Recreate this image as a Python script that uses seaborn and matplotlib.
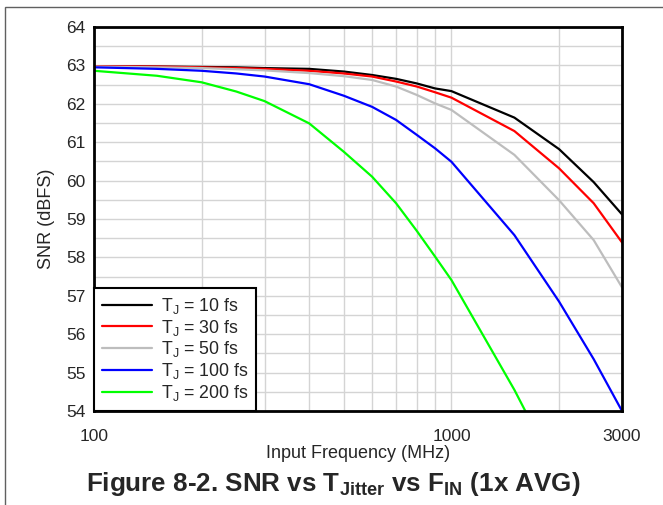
import pandas as pd
import seaborn as sns
import matplotlib.pyplot as plt
import numpy as np
from matplotlib.ticker import FixedLocator, NullFormatter, MultipleLocator
from matplotlib.patches import Rectangle

freq = [100, 150, 200, 250, 300, 400, 500, 600, 700, 800, 900, 1000, 1500, 2000, 2500, 3000]
snr_10 = [62.98, 62.97, 62.96, 62.95, 62.93, 62.91, 62.84, 62.75, 62.65, 62.53, 62.40, 62.33, 61.64, 60.82, 59.96, 59.12]
snr_30 = [62.98, 62.97, 62.95, 62.93, 62.91, 62.86, 62.79, 62.71, 62.58, 62.45, 62.30, 62.16, 61.29, 60.32, 59.41, 58.39]
snr_50 = [62.97, 62.95, 62.93, 62.90, 62.87, 62.80, 62.72, 62.62, 62.45, 62.23, 62.01, 61.84, 60.67, 59.49, 58.45, 57.22]
snr_100 = [62.95, 62.91, 62.86, 62.79, 62.71, 62.51, 62.21, 61.92, 61.58, 61.19, 60.84, 60.49, 58.58, 56.85, 55.35, 54.0]
snr_200 = [62.86, 62.73, 62.56, 62.32, 62.07, 61.49, 60.75, 60.10, 59.41, 58.69, 58.02, 57.41, 54.55, 52.3, 50.5, 49.0]
labels = ["T$_\\mathrm{J}$ = 10 fs", "T$_\\mathrm{J}$ = 30 fs", "T$_\\mathrm{J}$ = 50 fs",
          "T$_\\mathrm{J}$ = 100 fs", "T$_\\mathrm{J}$ = 200 fs"]
colors = ["#000000", "#ff0000", "#bdbdbd", "#0000ff", "#00ff00"]

rows = []
for lab, vals in zip(labels, [snr_10, snr_30, snr_50, snr_100, snr_200]):
    for f, v in zip(freq, vals):
        rows.append({"freq": f, "snr": v, "series": lab})
df = pd.DataFrame(rows)

sns.set_style("white")
plt.rcParams['font.family'] = ['Liberation Sans', 'DejaVu Sans']
plt.rcParams['mathtext.fontset'] = 'custom'
plt.rcParams['mathtext.rm'] = 'Liberation Sans'
plt.rcParams['mathtext.bf'] = 'Liberation Sans:bold'
plt.rcParams['mathtext.it'] = 'Liberation Sans:italic'

fig = plt.figure(figsize=(6.63, 5.05), dpi=100)
ax = fig.add_axes([94/663, 1-411/505, (622-94)/663, (411-27)/505])

sns.lineplot(data=df, x="freq", y="snr", hue="series", palette=colors,
             linewidth=1.6, ax=ax, legend=True)

ax.set_xscale("log")
ax.set_xlim(100, 3000)
ax.set_ylim(54, 64)
ax.xaxis.set_major_locator(FixedLocator([100, 1000, 3000]))
ax.xaxis.set_minor_locator(FixedLocator([200, 300, 400, 500, 600, 700, 800, 900, 2000]))
ax.xaxis.set_minor_formatter(NullFormatter())
ax.set_xticklabels(["100", "1000", "3000"])
ax.yaxis.set_major_locator(MultipleLocator(1))
ax.yaxis.set_minor_locator(MultipleLocator(0.5))
ax.grid(True, which="both", color="#d4d4d4", linewidth=1.0)
ax.set_axisbelow(True)
ax.tick_params(which="both", length=0)
ax.tick_params(axis="x", labelsize=12.5, pad=13)
ax.tick_params(axis="y", labelsize=12.5, pad=6)
for s in ax.spines.values():
    s.set_color("black")
    s.set_linewidth(2)
ax.set_xlabel("Input Frequency (MHz)", fontsize=13, labelpad=1)
ax.set_ylabel("SNR (dBFS)", fontsize=13, labelpad=8)

leg = ax.legend(loc="lower left", borderaxespad=0, fontsize=12.8, handlelength=2.8,
                labelspacing=0.1, handletextpad=0.5, borderpad=0.45,
                fancybox=False, framealpha=1)
leg.get_frame().set_edgecolor("black")
leg.get_frame().set_linewidth(1.5)
for ln in leg.get_lines():
    ln.set_linewidth(1.6)

fig.text(0.503, 1-484/505, "Figure 8-2. SNR vs T$_{\\mathbf{Jitter}}$ vs F$_{\\mathbf{IN}}$ (1x AVG)",
         ha="center", va="center", fontsize=18.7, fontweight="bold")

fig.patches.append(Rectangle((5/663, -0.1), 2, 1.1 - 7/505, transform=fig.transFigure,
                             fill=False, edgecolor="#606060", linewidth=1.0))

fig.savefig("out.png", dpi=100)
